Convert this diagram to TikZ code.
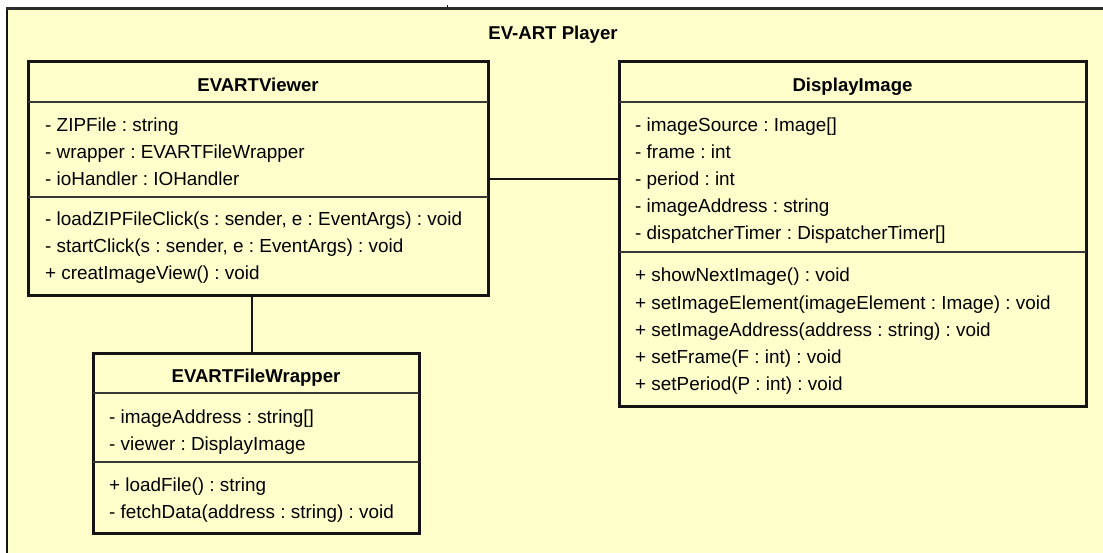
\documentclass[tikz,border=0pt]{standalone}
\usepackage{fontspec}
\setmainfont{Liberation Sans}
\frenchspacing
\definecolor{umlfill}{RGB}{255,255,204}
\definecolor{umlline}{RGB}{20,20,20}
\tikzset{
  classbox/.style={draw=umlline, fill=umlfill, line width=3pt, rectangle, inner sep=0pt},
  sepline/.style={draw=umlline!85, line width=1.4pt},
  assoc/.style={draw=umlline, line width=1.4pt},
  member/.style={anchor=base west, inner sep=0pt, font=\fontsize{18.9}{27}\selectfont},
  header/.style={anchor=base, inner sep=0pt, font=\fontsize{18.6}{27}\selectfont\bfseries},
}
% one text node per member line, 27pt apart
\newcommand\memberlines[4]{%
  \foreach \t [count=\i] in {#4} {
    \node[member] (#1\i) at (#2, {#3+27*(\i-1)}) {\t};
  }%
}
\begin{document}
\begin{tikzpicture}[x=1pt, y=-1pt]
\useasboundingbox (0,0) rectangle (1103,553);
\fill[white] (0,0) rectangle (1103,553);

% package frame
\fill[umlfill] (7,8) rectangle (1103,553);
\draw[umlline, line width=1.5pt] (7,8) -- (7,553);
\draw[umlline!90, line width=3pt] (6.25,8.5) -- (1103,8.5);
\draw[umlline, line width=1pt] (447,5.5) -- (447,8);
\node[header] (pkg) at (553,40) {EV-ART Player};

% EVARTViewer
\node[classbox, minimum width=460pt, minimum height=234pt] (viewer) at (258,179) {};
\node[header] (viewerName) at (258,91.5) {EVARTViewer};
\draw[sepline] (28,102) -- (488,102);
\draw[sepline] (28,197) -- (488,197);
\memberlines{va}{45}{132}{{- ZIPFile : string},{- wrapper : EVARTFileWrapper},{- ioHandler : IOHandler}}
\memberlines{vm}{45}{226}{{- loadZIPFileClick(s : sender, e : EventArgs) : void},{- startClick(s : sender, e : EventArgs) : void},{+ creatImageView() : void}}

% DisplayImage
\node[classbox, minimum width=467pt, minimum height=344pt] (display) at (852.5,234) {};
\node[header] (displayName) at (852.5,91.5) {DisplayImage};
\draw[sepline] (619,102) -- (1086,102);
\draw[sepline] (619,252) -- (1086,252);
\memberlines{da}{635}{132}{{- imageSource : Image[]},{- frame : int},{- period : int},{- imageAddress : string},{- dispatcherTimer : DispatcherTimer[]}}
\memberlines{dm}{635}{282}{{+ showNextImage() : void},{+ setImageElement(imageElement : Image) : void},{+ setImageAddress(address : string) : void},{+ setFrame(F : int) : void},{+ setPeriod(P : int) : void}}

% EVARTFileWrapper
\node[classbox, minimum width=326pt, minimum height=180pt] (wrapper) at (256,443) {};
\node[header] (wrapperName) at (256,382.5) {EVARTFileWrapper};
\draw[sepline] (93,393) -- (419,393);
\draw[sepline] (93,462) -- (419,462);
\memberlines{wa}{109}{423}{{- imageAddress : string[]},{- viewer : DisplayImage}}
\memberlines{wm}{109}{491}{{+ loadFile() : string},{- fetchData(address : string) : void}}

% associations
\draw[assoc] (viewer.east) -- (viewer.east -| display.west);
\draw[assoc] ([xshift=-4pt]wrapper.north) -- ([xshift=-4pt]wrapper.north |- viewer.south);
\end{tikzpicture}
\end{document}
